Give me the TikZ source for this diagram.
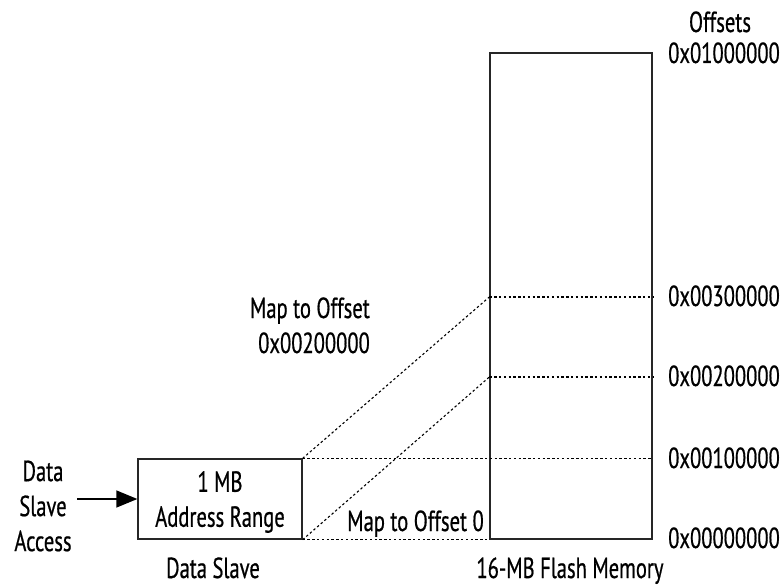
\documentclass[tikz,border=0pt]{standalone}
\usepackage{fontspec}
\setmainfont{PT Sans}[FakeStretch=0.71,FakeBold=0.6]
\usetikzlibrary{arrows.meta}
\tikzset{
  lbl/.style={inner sep=0pt, font=\fontsize{29}{35}\selectfont},
  boxline/.style={draw=black!85, line width=1.3pt},
  dashline/.style={draw=black, line width=1.1pt, dash pattern=on 2.4pt off 2.4pt},
}
\begin{document}
\begin{tikzpicture}[x=1pt,y=-1pt]
\useasboundingbox (0,0) rectangle (783,585);
% boxes
\node[boxline, minimum width=164pt, minimum height=80pt, inner sep=0pt] (ds) at (220,499) {};
\node[lbl, align=center] (dstext) at ([yshift=-3pt]ds.center) {1 MB\\Address Range};
\node[boxline, minimum width=162pt, minimum height=486pt, inner sep=0pt] (fm) at (571,296) {};
% offset coordinates on the flash box
\coordinate (l3) at (fm.west |- 0,297);
\coordinate (r3) at (fm.east |- 0,297);
\coordinate (l2) at (fm.west |- 0,377);
\coordinate (r2) at (fm.east |- 0,377);
\coordinate (r1) at (fm.east |- ds.north);
% connectors
\draw[dashline] (ds.north east) -- (l3);
\draw[dashline] (ds.south east) -- (l2);
\draw[dashline] (l3) -- (r3);
\draw[dashline] (l2) -- (r2);
\draw[dashline] (ds.north east) -- (r1);
\draw[dashline] (ds.south east) -- (fm.south west);
% input arrow
\node[lbl, align=center] (acc) at (43,506) {Data\\Slave\\Access};
\coordinate (astart) at (77,499);
\draw[line width=1.3pt, -{Triangle[length=21pt,width=17pt]}] (astart) -- (ds.west);
% captions
\node[lbl, anchor=base] (dscap) at (213,578) {Data Slave};
\node[lbl, anchor=base] (fmcap) at (570,578) {16-MB Flash Memory};
\node[lbl, anchor=base east, align=right] (map2) at (370,353) {Map to Offset\\0x00200000};
\node[lbl, anchor=base east] (map0) at (484,531) {Map to Offset 0};
% offsets
\node[lbl, anchor=base] (offh) at (720,32) {Offsets};
\node[lbl, anchor=base west] (o4) at (668,63) {0x01000000};
\node[lbl, anchor=base west] (o3) at (668,306) {0x00300000};
\node[lbl, anchor=base west] (o2) at (668,386) {0x00200000};
\node[lbl, anchor=base west] (o1) at (668,468) {0x00100000};
\node[lbl, anchor=base west] (o0) at (668,548) {0x00000000};
\end{tikzpicture}
\end{document}
